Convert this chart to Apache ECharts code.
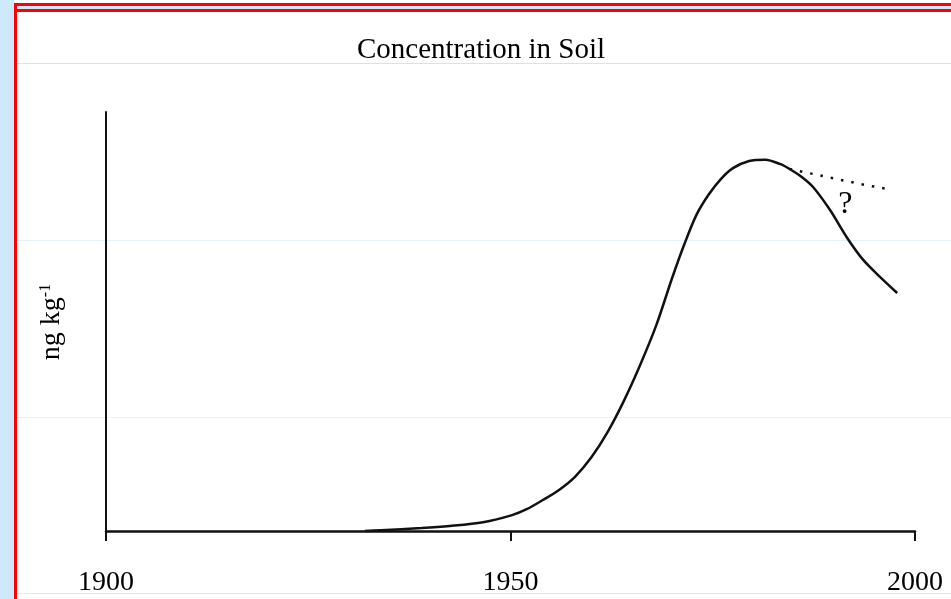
<!DOCTYPE html>
<html>
<head>
<meta charset="utf-8">
<script src="https://cdn.jsdelivr.net/npm/echarts@6/dist/echarts.min.js"></script>
<style>
  html, body { margin: 0; padding: 0; background: #ffffff; }
  #chart { width: 951px; height: 599px; }
</style>
</head>
<body>
<div id="chart"></div>
<script>
// Soil concentration over the 20th century (arbitrary units, ng kg-1)
const years = [1932, 1934, 1939, 1942.5, 1946.6, 1950.2, 1952, 1954, 1956, 1958, 1960,
               1962, 1964, 1966, 1968, 1970, 1971.5, 1973, 1974.5, 1976, 1977.5,
               1979.5, 1981.5, 1983.3, 1984.5, 1986, 1987.4, 1989.5, 1991.6, 1993.6,
               1995.7, 1997.8];
const concentration = [0, 0.2, 0.7, 1.2, 2.1, 3.8, 5.2, 7.4, 9.8, 13, 17.6,
                       23.6, 31, 39.5, 49, 60.5, 68.5, 75.5, 80.3, 84, 86.6,
                       88.3, 88.6, 87.6, 86.4, 84.5, 82.1, 76.6, 70, 64.7,
                       60.6, 56.8];

// Alternative (uncertain) trajectory after the peak
const altYears = [1984.5, 1989.1, 1993.8, 1996.7];
const altConcentration = [86.4, 84.5, 82.6, 81.6];

// Position of the question-mark note, in data units
const noteYear = [1991.4];
const noteValue = [77.8];

const xTicks = [1900, 1950, 2000];

const serif = '"Liberation Serif", "DejaVu Serif", serif';

const chart = echarts.init(document.getElementById('chart'), null, { renderer: 'canvas' });

chart.setOption({
  animation: false,
  backgroundColor: '#ffffff',
  title: {
    text: 'Concentration in Soil',
    left: 476,
    top: 31,
    textAlign: 'center',
    textStyle: { fontFamily: serif, fontSize: 29, fontWeight: 'normal', color: '#000' }
  },
  grid: { left: 106, right: 36, top: 112, bottom: 68 },
  xAxis: {
    type: 'value',
    min: xTicks[0],
    max: xTicks[xTicks.length - 1],
    interval: xTicks[1] - xTicks[0],
    axisLine: { show: true, lineStyle: { color: '#111', width: 2.5 } },
    axisTick: { show: true, length: 10, lineStyle: { color: '#111', width: 2 } },
    axisLabel: {
      margin: 38,
      fontFamily: serif,
      fontSize: 28,
      color: '#000',
      formatter: (v) => String(v)
    },
    splitLine: { show: false }
  },
  yAxis: {
    type: 'value',
    min: 0,
    max: 100,
    axisLine: { show: true, lineStyle: { color: '#111', width: 2 } },
    axisTick: { show: false },
    axisLabel: { show: false },
    splitLine: { show: false }
  },
  graphic: [
    // page frame
    { type: 'rect', z: 0, shape: { x: 0, y: 0, width: 14, height: 599 }, style: { fill: '#cde9fb' } },
    { type: 'rect', z: 0, shape: { x: 14, y: 6, width: 937, height: 4 }, style: { fill: '#cde9fb' } },
    { type: 'rect', z: 0, shape: { x: 14, y: 3, width: 937, height: 3 }, style: { fill: '#ff0000' } },
    { type: 'rect', z: 0, shape: { x: 14, y: 9, width: 937, height: 3 }, style: { fill: '#ff0000' } },
    { type: 'rect', z: 0, shape: { x: 14, y: 3, width: 3, height: 596 }, style: { fill: '#ff0000' } },
    // faint table rules
    { type: 'line', z: 0, shape: { x1: 17, y1: 63.5, x2: 951, y2: 63.5 }, style: { stroke: '#c9e6fa', lineWidth: 1 } },
    { type: 'line', z: 0, shape: { x1: 17, y1: 240.5, x2: 951, y2: 240.5 }, style: { stroke: '#e6f2fb', lineWidth: 1 } },
    { type: 'line', z: 0, shape: { x1: 17, y1: 417.5, x2: 951, y2: 417.5 }, style: { stroke: '#e6f2fb', lineWidth: 1 } },
    { type: 'line', z: 0, shape: { x1: 17, y1: 593.5, x2: 951, y2: 593.5 }, style: { stroke: '#d6ebfa', lineWidth: 1 } },
    // y-axis title
    {
      type: 'text',
      z: 10,
      x: 52,
      y: 322,
      rotation: Math.PI / 2,
      style: {
        text: 'ng kg{s|-1}',
        fontFamily: serif,
        fontSize: 28,
        fill: '#000',
        align: 'center',
        verticalAlign: 'middle',
        rich: {
          s: { fontFamily: serif, fontSize: 16, fill: '#000', verticalAlign: 'top', lineHeight: 28 }
        }
      }
    }
  ],
  series: [
    {
      type: 'line',
      data: years.map((y, i) => [y, concentration[i]]),
      smooth: 0.3,
      showSymbol: false,
      lineStyle: { color: '#111', width: 2.5 },
      z: 3
    },
    {
      type: 'line',
      data: altYears.map((y, i) => [y, altConcentration[i]]),
      smooth: false,
      showSymbol: false,
      lineStyle: { color: '#111', width: 2.5, type: [2.5, 8] },
      z: 3
    },
    {
      type: 'scatter',
      data: noteYear.map((y, i) => [y, noteValue[i]]),
      symbol: 'circle',
      symbolSize: 1,
      itemStyle: { color: '#ffffff', opacity: 1 },
      label: {
        show: true,
        position: 'inside',
        formatter: '?',
        fontFamily: serif,
        fontSize: 32,
        color: '#000',
        opacity: 1,
        textBorderWidth: 0
      },
      z: 4
    }
  ]
});
</script>
</body>
</html>
